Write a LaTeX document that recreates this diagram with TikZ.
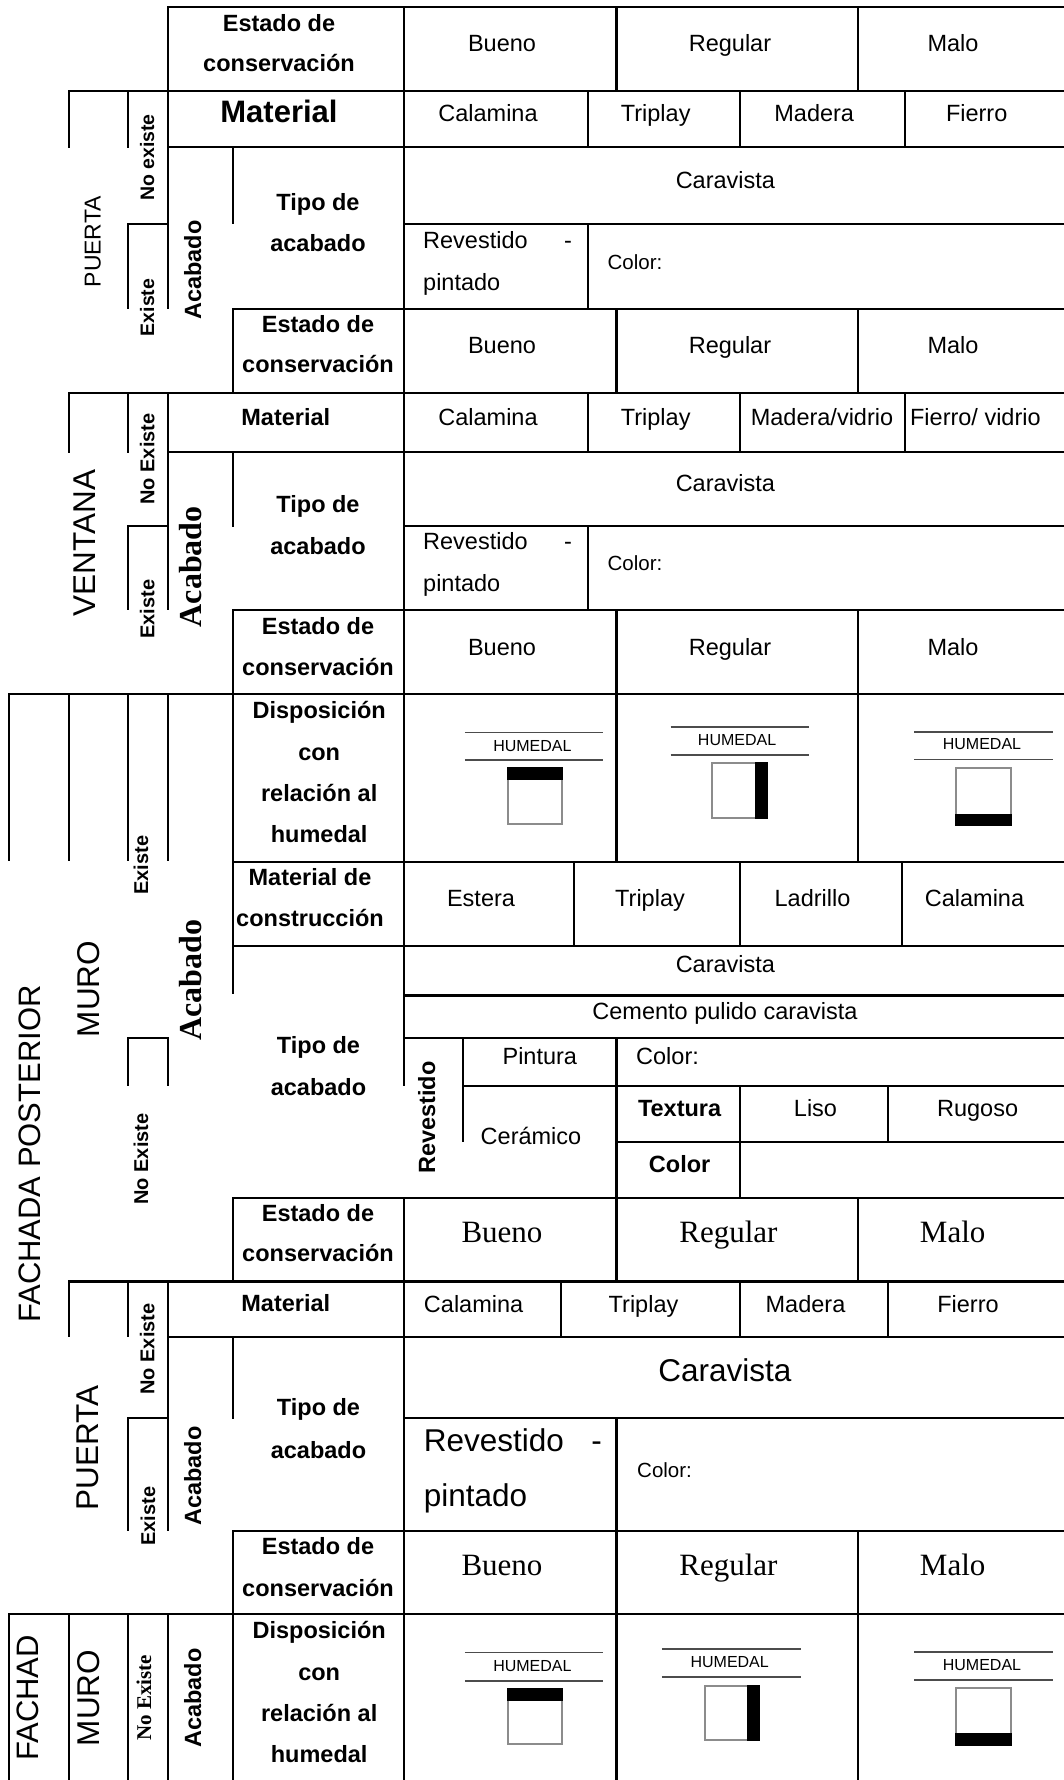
\documentclass[tikz,border=0pt]{standalone}
\usepackage{fontspec}
\setmainfont{Liberation Sans}
\newfontfamily\serifface{Liberation Serif}
\tikzset{
  lab/.style={inner sep=0pt, anchor=base, font=\fontsize{23.5}{28}\selectfont},
  labl/.style={lab, anchor=base west},
  labb/.style={lab, font=\fontsize{23.5}{28}\selectfont\bfseries},
  bigb/.style={lab, font=\fontsize{31}{37}\selectfont\bfseries},
  big/.style={lab, font=\fontsize{31.5}{38}\selectfont},
  bigl/.style={big, anchor=base west},
  ser/.style={lab, font=\serifface\fontsize{31}{37}\selectfont},
  serb/.style={lab, font=\serifface\fontsize{32}{38}\selectfont\bfseries},
  serbs/.style={lab, font=\serifface\fontsize{21}{25}\selectfont\bfseries},
  small/.style={lab, anchor=base west, font=\fontsize{20.5}{24}\selectfont},
  vlab/.style={lab, font=\fontsize{19.5}{23}\selectfont\bfseries},
  hum/.style={lab, font=\fontsize{16}{19}\selectfont},
  grid/.style={line width=2.1pt, line cap=rect},
  humline/.style={line width=1.6pt, draw=black!70},
  humbox/.style={line width=2pt, draw=black!45, fill=white},
}
\begin{document}
\begin{tikzpicture}[x=1pt,y=-1pt]
\useasboundingbox (0,0) rectangle (1063,1780);
% ---------------- PUERTA 1 ----------------
\draw[grid] (167.7,6.7) -- (1063,6.7);
\draw[grid] (68.9,90.7) -- (1063,90.7);
\draw[grid] (68.9,90.7) -- (68.9,146.7);
\draw[grid] (128.1,90.7) -- (128.1,146.7);
\draw[grid] (167.7,6.7) -- (167.7,307.7);
\draw[grid] (167.7,146.7) -- (1063,146.7);
\draw[grid] (232.8,146.7) -- (232.8,223.3);
\draw[grid] (128.1,224.3) -- (167.7,224.3);
\draw[grid] (128.1,224.3) -- (128.1,307.7);
\draw[grid] (403.6,224.3) -- (1063,224.3);
\draw[grid] (232.8,309) -- (1063,309);
\draw[grid] (232.8,309) -- (232.8,392.7);
\draw[grid] (403.6,6.7) -- (403.6,1085);
\draw[grid] (403.6,1197.7) -- (403.6,1780);
\draw[grid] (616.5,6.7) -- (616.5,90.7);
\draw[grid] (857.8,6.7) -- (857.8,90.7);
\draw[grid] (588.2,90.7) -- (588.2,146.7);
\draw[grid] (740.2,90.7) -- (740.2,146.7);
\draw[grid] (904.8,90.7) -- (904.8,146.7);
\draw[grid] (588.2,224.3) -- (588.2,309);
\draw[grid] (616.5,309) -- (616.5,392.7);
\draw[grid] (857.8,309) -- (857.8,392.7);
% ---------------- VENTANA ----------------
\draw[grid] (68.9,392.7) -- (1063,392.7);
\draw[grid] (68.9,392.7) -- (68.9,451.7);
\draw[grid] (128.1,392.7) -- (128.1,451.7);
\draw[grid] (167.7,392.7) -- (167.7,609.3);
\draw[grid] (167.7,452.3) -- (1063,452.3);
\draw[grid] (232.8,452.3) -- (232.8,525.7);
\draw[grid] (128.1,525.7) -- (167.7,525.7);
\draw[grid] (128.1,525.7) -- (128.1,609.3);
\draw[grid] (403.6,525.7) -- (1063,525.7);
\draw[grid] (588.2,392.7) -- (588.2,452.3);
\draw[grid] (740.2,392.7) -- (740.2,452.3);
\draw[grid] (904.8,392.7) -- (904.8,452.3);
\draw[grid] (588.2,525.7) -- (588.2,610);
\draw[grid] (232.8,610) -- (1063,610);
\draw[grid] (232.8,610) -- (232.8,694.3);
\draw[grid] (616.5,610) -- (616.5,694.3);
\draw[grid] (857.8,610) -- (857.8,694.3);
% ---------------- FACHADA POSTERIOR / MURO ----------------
\draw[grid] (9.3,694.3) -- (1063,694.3);
\foreach \xx in {9.3,68.9,128.1,167.7} {\draw[grid] (\xx,694.3) -- (\xx,860);}
\draw[grid] (232.8,694.3) -- (232.8,993.3);
\draw[grid] (616.5,694.3) -- (616.5,862.3);
\draw[grid] (857.8,694.3) -- (857.8,862.3);
\draw[grid] (232.8,862.3) -- (1063,862.3);
\draw[grid] (573.8,862.3) -- (573.8,945.7);
\draw[grid] (740.2,862.3) -- (740.2,945.7);
\draw[grid] (901.8,862.3) -- (901.8,945.7);
\draw[grid] (232.8,945.7) -- (1063,945.7);
\draw[grid] (403.6,995.5) -- (1063,995.5);
\draw[grid] (128.1,1037.7) -- (167.7,1037.7);
\draw[grid] (128.1,1037.7) -- (128.1,1085);
\draw[grid] (167.7,1037.7) -- (167.7,1085);
\draw[grid] (403.6,1037.7) -- (1063,1037.7);
\draw[grid] (462.8,1037.7) -- (462.8,1141);
\draw[grid] (616.5,1037.7) -- (616.5,1197.7);
\draw[grid] (462.8,1085.7) -- (1063,1085.7);
\draw[grid] (740.2,1085.7) -- (740.2,1197.7);
\draw[grid] (888.3,1085.7) -- (888.3,1141.7);
\draw[grid] (616.5,1141.7) -- (1063,1141.7);
\draw[grid] (232.8,1197.7) -- (1063,1197.7);
\draw[grid] (232.8,1197.7) -- (232.8,1281.5);
\draw[grid] (616.5,1197.7) -- (616.5,1281.5);
\draw[grid] (857.8,1197.7) -- (857.8,1281.5);
% ---------------- PUERTA 2 ----------------
\draw[grid] (68.9,1281.5) -- (1063,1281.5);
\draw[grid] (68.9,1281.5) -- (68.9,1336);
\draw[grid] (128.1,1281.5) -- (128.1,1336);
\draw[grid] (167.7,1281.5) -- (167.7,1530);
\draw[grid] (167.7,1336.7) -- (1063,1336.7);
\draw[grid] (560.7,1281.5) -- (560.7,1336.7);
\draw[grid] (740.2,1281.5) -- (740.2,1336.7);
\draw[grid] (888.3,1281.5) -- (888.3,1336.7);
\draw[grid] (232.8,1336.7) -- (232.8,1418);
\draw[grid] (128.1,1418.3) -- (167.7,1418.3);
\draw[grid] (128.1,1418.3) -- (128.1,1530);
\draw[grid] (403.6,1418.3) -- (1063,1418.3);
\draw[grid] (616.5,1418.3) -- (616.5,1530.7);
\draw[grid] (232.8,1530.7) -- (1063,1530.7);
\draw[grid] (232.8,1530.7) -- (232.8,1614.3);
\draw[grid] (616.5,1530.7) -- (616.5,1780);
\draw[grid] (857.8,1530.7) -- (857.8,1780);
% ---------------- FACHAD / MURO ----------------
\draw[grid] (9.3,1614.3) -- (1063,1614.3);
\foreach \xx in {9.3,68.9,128.1,167.7,232.8} {\draw[grid] (\xx,1614.3) -- (\xx,1780);}

% ================= TEXTS =================
% Puerta 1
\node[labb] (p1e1) at (279,31.5) {Estado de};
\node[labb] (p1e2) at (279,71.5) {conservación};
\node[lab] (p1b) at (502,51.5) {Bueno};
\node[lab] (p1r) at (730,51.5) {Regular};
\node[lab] (p1m) at (953,51.5) {Malo};
\node[bigb] (p1mat) at (279,122.5) {Material};
\node[lab] (p1c1) at (488,121.5) {Calamina};
\node[lab] (p1c2) at (655.7,121.5) {Triplay};
\node[lab] (p1c3) at (814.2,121.5) {Madera};
\node[lab] (p1c4) at (976.7,121.5) {Fierro};
\node[vlab, rotate=90] (p1ne) at (154.2,157.5) {No existe};
\node[lab, rotate=90, font=\fontsize{23}{27}\selectfont] (p1p) at (100.5,241.7) {PUERTA};
\node[vlab, rotate=90] (p1ex) at (154.2,307.5) {Existe};
\node[labb, rotate=90] (p1ac) at (201,270) {Acabado};
\node[labb] (p1t1) at (318,210) {Tipo de};
\node[labb] (p1t2) at (318,251) {acabado};
\node[lab] (p1car) at (725.4,188) {Caravista};
\node[labl] (p1rv) at (423,248) {Revestido};
\node[lab] (p1dash) at (568,248) {-};
\node[labl] (p1pi) at (423,290) {pintado};
\node[small] (p1col) at (607.4,269) {Color:};
\node[labb] (p1s1) at (318,332) {Estado de};
\node[labb] (p1s2) at (318,372.5) {conservación};
\node[lab] (p1sb) at (502,353) {Bueno};
\node[lab] (p1sr) at (730,353) {Regular};
\node[lab] (p1sm) at (953,353) {Malo};
% Ventana
\node[labb] (v1mat) at (285.8,425) {Material};
\node[lab] (v1c1) at (488,425) {Calamina};
\node[lab] (v1c2) at (655.7,425) {Triplay};
\node[lab] (v1c3) at (822,425) {Madera/vidrio};
\node[lab] (v1c4) at (975.4,425) {Fierro/ vidrio};
\node[vlab, rotate=90, font=\fontsize{20}{24}\selectfont\bfseries] (v1ne) at (154.4,459) {No Existe};
\node[big, rotate=90] (v1v) at (95.4,543) {VENTANA};
\node[vlab, rotate=90, font=\fontsize{20}{24}\selectfont\bfseries] (v1ex) at (154.4,609) {Existe};
\node[serb, rotate=90] (v1ac) at (201.7,566.7) {Acabado};
\node[labb] (v1t1) at (318,512) {Tipo de};
\node[labb] (v1t2) at (318,554) {acabado};
\node[lab] (v1car) at (725.4,491.5) {Caravista};
\node[labl] (v1rv) at (423,549) {Revestido};
\node[lab] (v1dash) at (568,549) {-};
\node[labl] (v1pi) at (423,591.5) {pintado};
\node[small] (v1col) at (607.4,570.5) {Color:};
\node[labb] (v1s1) at (318,634) {Estado de};
\node[labb] (v1s2) at (318,675) {conservación};
\node[lab] (v1sb) at (502,655) {Bueno};
\node[lab] (v1sr) at (730,655) {Regular};
\node[lab] (v1sm) at (953,655) {Malo};
% Fachada posterior - muro
\node[labb] (m1d1) at (319.2,718) {Disposición};
\node[labb] (m1d2) at (319.2,760) {con};
\node[labb] (m1d3) at (319.2,801.5) {relación al};
\node[labb] (m1d4) at (319.2,842.5) {humedal};
\node[vlab, rotate=90, font=\fontsize{20}{24}\selectfont\bfseries] (m1ex) at (148,865) {Existe};
\node[big, rotate=90] (m1mu) at (99.8,989) {MURO};
\node[big, rotate=90, font=\fontsize{31}{37}\selectfont] (fp) at (40,1154) {FACHADA POSTERIOR};
\node[serb, rotate=90] (m1ac) at (201.6,980) {Acabado};
\node[labb] (m1m1) at (310,885.5) {Material de};
\node[labb] (m1m2) at (310,926.5) {construcción};
\node[lab] (m1c1) at (481,906) {Estera};
\node[lab] (m1c2) at (650,906) {Triplay};
\node[lab] (m1c3) at (812.5,906) {Ladrillo};
\node[lab] (m1c4) at (974.5,906) {Calamina};
\node[lab] (m1car) at (725.4,972.5) {Caravista};
\node[lab] (m1cem) at (725,1019) {Cemento pulido caravista};
\node[labb] (m1t1) at (318.5,1053) {Tipo de};
\node[labb] (m1t2) at (318.5,1095) {acabado};
\node[vlab, rotate=90, font=\fontsize{20}{24}\selectfont\bfseries] (m1ne) at (148,1159) {No Existe};
\node[labb, rotate=90] (m1rv) at (435.2,1117.5) {Revestido};
\node[lab] (m1pin) at (539.8,1064) {Pintura};
\node[labl] (m1col) at (636,1064) {Color:};
\node[labb] (m1tex) at (679.6,1116.5) {Textura};
\node[lab] (m1liso) at (815.5,1116.5) {Liso};
\node[lab] (m1rug) at (977.6,1116.5) {Rugoso};
\node[lab] (m1cer) at (531,1144) {Cerámico};
\node[labb] (m1colb) at (679.6,1172.5) {Color};
\node[labb] (m1s1) at (318,1221.5) {Estado de};
\node[labb] (m1s2) at (318,1261.5) {conservación};
\node[ser] (m1sb) at (502,1242) {Bueno};
\node[ser] (m1sr) at (728.4,1242) {Regular};
\node[ser] (m1sm) at (952.7,1242) {Malo};
% Puerta 2
\node[labb] (p2mat) at (285.8,1311.5) {Material};
\node[lab] (p2c1) at (473.6,1312.5) {Calamina};
\node[lab] (p2c2) at (643.5,1312.5) {Triplay};
\node[lab] (p2c3) at (805.5,1312.5) {Madera};
\node[lab] (p2c4) at (968,1312.5) {Fierro};
\node[vlab, rotate=90, font=\fontsize{20}{24}\selectfont\bfseries] (p2ne) at (154.4,1349) {No Existe};
\node[big, rotate=90] (p2p) at (98.8,1448) {PUERTA};
\node[vlab, rotate=90, font=\fontsize{20}{24}\selectfont\bfseries] (p2ex) at (155,1516) {Existe};
\node[labb, rotate=90] (p2ac) at (201,1476) {Acabado};
\node[labb] (p2t1) at (318.5,1415) {Tipo de};
\node[labb] (p2t2) at (318.5,1458) {acabado};
\node[big] (p2car) at (725,1381) {Caravista};
\node[bigl] (p2rv) at (423.6,1451) {Revestido};
\node[big] (p2dash) at (596.5,1451) {-};
\node[bigl] (p2pi) at (423.6,1506) {pintado};
\node[small] (p2col) at (637,1477) {Color:};
\node[labb] (p2s1) at (318,1554) {Estado de};
\node[labb] (p2s2) at (318,1596.5) {conservación};
\node[ser] (p2sb) at (502,1575) {Bueno};
\node[ser] (p2sr) at (728.4,1575) {Regular};
\node[ser] (p2sm) at (952.7,1575) {Malo};
% Fachad - muro
\node[big, rotate=90, font=\fontsize{31}{37}\selectfont] (fa) at (38.5,1698) {FACHAD};
\node[big, rotate=90] (m2mu) at (99.8,1698) {MURO};
\node[serbs, rotate=90] (m2ne) at (151,1698) {No Existe};
\node[labb, rotate=90] (m2ac) at (201,1698) {Acabado};
\node[labb] (m2d1) at (319.2,1638) {Disposición};
\node[labb] (m2d2) at (319.2,1680) {con};
\node[labb] (m2d3) at (319.2,1721.5) {relación al};
\node[labb] (m2d4) at (319.2,1762) {humedal};

% ================= HUMEDAL ICONS =================
% row 1
\draw[humline] (464.9,732.3) -- (603.4,732.3);
\node[hum] (h1a) at (532.4,751.6) {HUMEDAL};
\draw[humline] (464.9,760) -- (603.4,760);
\draw[humbox] (507.6,768.3) rectangle (561.6,824);
\fill[black] (506.6,767.3) rectangle (562.6,780);
\draw[humline] (670.5,726.7) -- (808.6,726.7);
\node[hum] (h1b) at (737.1,745.6) {HUMEDAL};
\draw[humline] (670.5,755) -- (808.6,755);
\draw[humbox] (712.3,763.3) rectangle (766.8,818.3);
\fill[black] (754.8,762.3) rectangle (767.8,819.3);
\draw[humline] (914.4,731.7) -- (1052.9,731.7);
\node[hum] (h1c) at (982,749.9) {HUMEDAL};
\draw[humline] (914.4,759.3) -- (1052.9,759.3);
\draw[humbox] (956.2,767.7) rectangle (1010.7,825);
\fill[black] (955.2,814) rectangle (1011.7,826);
% row 2
\draw[humline] (464.9,1652.3) -- (603.4,1652.3);
\node[hum] (h2a) at (532.4,1671.3) {HUMEDAL};
\draw[humline] (464.9,1680.7) -- (603.4,1680.7);
\draw[humbox] (507.6,1689) rectangle (561.6,1744.3);
\fill[black] (506.6,1688) rectangle (562.6,1701);
\draw[humline] (661.8,1649) -- (800.7,1649);
\node[hum] (h2b) at (729.7,1667.3) {HUMEDAL};
\draw[humline] (661.8,1676.7) -- (800.7,1676.7);
\draw[humbox] (704.5,1685.7) rectangle (758.9,1740);
\fill[black] (746.9,1684.7) rectangle (759.9,1741);
\draw[humline] (914.4,1651.7) -- (1052.9,1651.7);
\node[hum] (h2c) at (982,1670.6) {HUMEDAL};
\draw[humline] (914.4,1680) -- (1052.9,1680);
\draw[humbox] (956.2,1688.3) rectangle (1010.7,1745);
\fill[black] (955.2,1733) rectangle (1011.7,1746);
\end{tikzpicture}
\end{document}
